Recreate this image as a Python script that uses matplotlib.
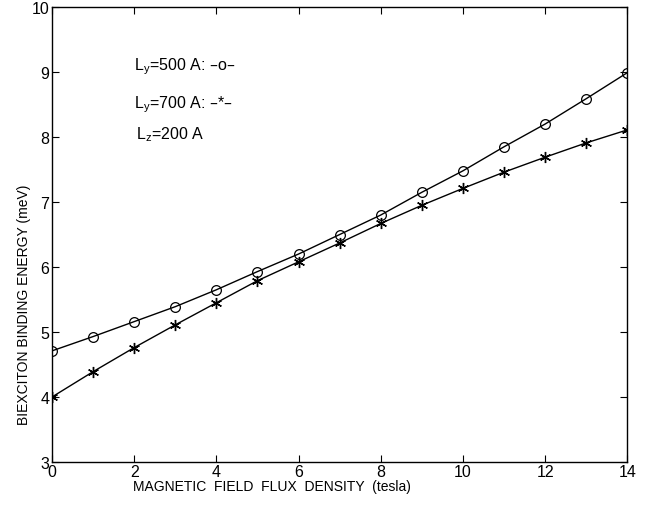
import numpy as np
import matplotlib.pyplot as plt

plt.rcParams['font.family'] = ['Liberation Sans', 'DejaVu Sans']

# magnetic field (tesla)
field = np.arange(0, 15)

# biexciton binding energy (meV)
energy_ly500 = [4.71, 4.93, 5.16, 5.39, 5.65, 5.93, 6.2, 6.5, 6.8, 7.15,
                7.48, 7.85, 8.2, 8.59, 8.99]
energy_ly700 = [4.0, 4.39, 4.76, 5.11, 5.45, 5.79, 6.08, 6.37, 6.67, 6.95,
                7.21, 7.46, 7.69, 7.91, 8.11]

xticks = [0, 2, 4, 6, 8, 10, 12, 14]
yticks = [3, 4, 5, 6, 7, 8, 9, 10]

fig = plt.figure(figsize=(6.5, 5.06), dpi=100)
ax = fig.add_axes([0.08, 0.085, 0.885, 0.899])

ax.plot(field, energy_ly500, color='black', lw=1.0, marker='o',
        markersize=7, markerfacecolor='none', markeredgewidth=0.9)
ax.plot(field, energy_ly700, color='black', lw=1.0, marker=(6, 2, 0),
        markersize=8, markeredgewidth=1.0)

ax.set_xlim(0, 14)
ax.set_ylim(3, 10)
ax.set_xticks(xticks)
ax.set_yticks(yticks)
ax.tick_params(direction='in', top=True, right=True, length=5, width=0.8,
               labelsize=11.5)
ax.tick_params(axis='x', pad=1.5)
ax.tick_params(axis='y', pad=2)
for s in ax.spines.values():
    s.set_linewidth(1.0)

ax.text(2.0, 9.1, r'L$_\mathregular{y}$=500 A: –o–', fontsize=11.5, va='center')
ax.text(2.0, 8.52, r'L$_\mathregular{y}$=700 A: –*–', fontsize=11.5, va='center')
ax.text(2.05, 8.05, r'L$_\mathregular{z}$=200 A', fontsize=11.5, va='center')

ax.set_xlabel('MAGNETIC  FIELD  FLUX  DENSITY  (tesla)', fontsize=10)
ax.set_ylabel('BIEXCITON BINDING ENERGY (meV)', fontsize=10)
ax.xaxis.set_label_coords(0.383, -0.038)
ax.yaxis.set_label_coords(-0.036, 0.347)

fig.savefig('out.png', dpi=100)
